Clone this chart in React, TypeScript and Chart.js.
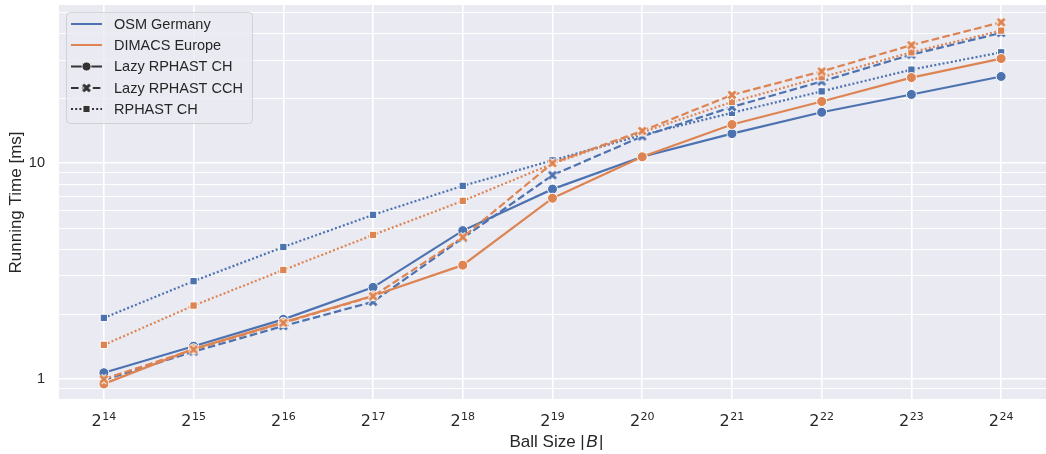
import React, { useEffect, useRef } from 'react';
import { Chart, registerables } from 'chart.js';

Chart.register(...registerables);

// ---- data ----
const exponents = [14, 15, 16, 17, 18, 19, 20, 21, 22, 23, 24];
const osmLazyCH = [1.07, 1.42, 1.89, 2.66, 4.87, 7.58, 10.7, 13.7, 17.2, 20.8, 25.2];
const dimacsLazyCH = [0.95, 1.38, 1.83, 2.43, 3.37, 6.88, 10.7, 15.1, 19.3, 24.9, 30.5];
const osmLazyCCH = [0.99, 1.34, 1.76, 2.28, 4.5, 8.8, 13.3, 18.2, 23.9, 31.8, 40.1];
const dimacsLazyCCH = [1.0, 1.37, 1.82, 2.42, 4.54, 10.0, 14.1, 20.7, 26.6, 35.2, 44.9];
const osmRphastCH = [1.92, 2.84, 4.09, 5.76, 7.85, 10.3, 13.5, 17.1, 21.5, 27.1, 32.6];
const dimacsRphastCH = [1.44, 2.19, 3.2, 4.65, 6.69, 9.93, 13.9, 19.2, 25.0, 32.6, 41.1];

const yGridValues = [0.8, 0.9, 1, 2, 3, 4, 5, 6, 7, 8, 9, 10, 20, 30, 40, 50];
const yLabeled = [1, 10];

const hueLabels = ['OSM Germany', 'DIMACS Europe'];
const styleLabels = ['Lazy RPHAST CH', 'Lazy RPHAST CCH', 'RPHAST CH'];
const xTitleParts = ['Ball Size ', '|', 'B', '|'];
const yTitle = 'Running Time [ms]';

const BLUE = '#4c72b0';
const ORANGE = '#dd8452';
const DARK = '#333333';
const TEXT = '#262626';
const BG = '#eaeaf2';
const FONT = "'Liberation Sans', Arial, sans-serif";

const DASHED = [7.6, 3.3];
const DOTTED = [2, 2.2];

function makeX(color: string, size = 14, d = 3.5): HTMLCanvasElement {
  const c = document.createElement('canvas');
  c.width = size;
  c.height = size;
  const g = c.getContext('2d')!;
  const m = size / 2;
  g.lineCap = 'butt';
  const cross = () => {
    g.beginPath();
    g.moveTo(m - d, m - d);
    g.lineTo(m + d, m + d);
    g.moveTo(m + d, m - d);
    g.lineTo(m - d, m + d);
    g.stroke();
  };
  g.strokeStyle = '#ffffff';
  g.lineWidth = 5;
  cross();
  g.strokeStyle = color;
  g.lineWidth = 3.1;
  cross();
  return c;
}

function toPoints(vals: number[]) {
  return exponents.map((e, i) => ({ x: e, y: vals[i] }));
}

const bgPlugin = {
  id: 'bgPlugin',
  beforeDraw(chart: any) {
    const { ctx, chartArea } = chart;
    ctx.save();
    ctx.fillStyle = '#ffffff';
    ctx.fillRect(0, 0, chart.width, chart.height);
    ctx.fillStyle = BG;
    ctx.fillRect(chartArea.left, chartArea.top, chartArea.right - chartArea.left, chartArea.bottom - chartArea.top);
    ctx.restore();
  },
};

const xLabelPlugin = {
  id: 'xLabelPlugin',
  afterDraw(chart: any) {
    const { ctx, chartArea } = chart;
    const xs = chart.scales.x;
    ctx.save();
    ctx.fillStyle = TEXT;
    ctx.textBaseline = 'alphabetic';
    ctx.textAlign = 'left';
    for (const e of exponents) {
      const px = xs.getPixelForValue(e);
      const base = '2';
      const sup = String(e);
      ctx.font = `16px 'DejaVu Sans', ${FONT}`;
      const wb = ctx.measureText(base).width;
      ctx.font = `11px 'DejaVu Sans', ${FONT}`;
      const ws = ctx.measureText(sup).width;
      const total = wb + 0.5 + ws;
      const left = px - total / 2;
      ctx.font = `16px 'DejaVu Sans', ${FONT}`;
      ctx.fillText(base, left, 426);
      ctx.font = `11px 'DejaVu Sans', ${FONT}`;
      ctx.fillText(sup, left + wb + 0.5, 420);
    }
    // x axis title with italic B
    const fonts = [`17px ${FONT}`, `17px ${FONT}`, `italic 17px ${FONT}`, `17px ${FONT}`];
    const gaps = [0, 1.5, 1.5, 0];
    let totalW = 0;
    const widths = xTitleParts.map((t, i) => {
      ctx.font = fonts[i];
      const w = ctx.measureText(t).width;
      totalW += w + gaps[i];
      return w;
    });
    let x = (chartArea.left + chartArea.right) / 2 + 4 - totalW / 2;
    xTitleParts.forEach((t, i) => {
      ctx.font = fonts[i];
      ctx.fillText(t, x, 447);
      x += widths[i] + gaps[i];
    });
    ctx.restore();
  },
};

const legendPlugin = {
  id: 'legendPlugin',
  afterDraw(chart: any) {
    const { ctx } = chart;
    ctx.save();
    const x0 = 66.5, y0 = 12.5, w = 186, h = 111, r = 4;
    ctx.beginPath();
    ctx.moveTo(x0 + r, y0);
    ctx.lineTo(x0 + w - r, y0);
    ctx.arcTo(x0 + w, y0, x0 + w, y0 + r, r);
    ctx.lineTo(x0 + w, y0 + h - r);
    ctx.arcTo(x0 + w, y0 + h, x0 + w - r, y0 + h, r);
    ctx.lineTo(x0 + r, y0 + h);
    ctx.arcTo(x0, y0 + h, x0, y0 + h - r, r);
    ctx.lineTo(x0, y0 + r);
    ctx.arcTo(x0, y0, x0 + r, y0, r);
    ctx.closePath();
    ctx.fillStyle = 'rgba(234,234,242,0.8)';
    ctx.fill();
    ctx.strokeStyle = 'rgba(204,204,204,0.8)';
    ctx.lineWidth = 1;
    ctx.stroke();

    const rows = [24, 45, 66.5, 88, 109];
    const items = [
      { label: hueLabels[0], color: BLUE, dash: [] as number[], marker: '' },
      { label: hueLabels[1], color: ORANGE, dash: [] as number[], marker: '' },
      { label: styleLabels[0], color: DARK, dash: [] as number[], marker: 'o' },
      { label: styleLabels[1], color: DARK, dash: DASHED, marker: 'x' },
      { label: styleLabels[2], color: DARK, dash: DOTTED, marker: 's' },
    ];
    const lx0 = 71, lx1 = 102, mx = 86.5;
    items.forEach((it, i) => {
      const y = rows[i];
      ctx.beginPath();
      ctx.setLineDash(it.dash);
      ctx.strokeStyle = it.color;
      ctx.lineWidth = 2;
      ctx.moveTo(lx0, y);
      ctx.lineTo(lx1, y);
      ctx.stroke();
      ctx.setLineDash([]);
      if (it.marker === 'o') {
        ctx.beginPath();
        ctx.arc(mx, y, 4.5, 0, Math.PI * 2);
        ctx.fillStyle = DARK;
        ctx.fill();
        ctx.strokeStyle = '#fff';
        ctx.lineWidth = 0.8;
        ctx.stroke();
      } else if (it.marker === 'x') {
        const img = makeX(DARK, 14, 3.3);
        ctx.drawImage(img, mx - img.width / 2, y - img.height / 2);
      } else if (it.marker === 's') {
        ctx.fillStyle = DARK;
        ctx.fillRect(mx - 3.5, y - 3.5, 7, 7);
        ctx.strokeStyle = '#fff';
        ctx.lineWidth = 0.8;
        ctx.strokeRect(mx - 3.5, y - 3.5, 7, 7);
      }
      ctx.fillStyle = TEXT;
      ctx.font = `14.5px ${FONT}`;
      ctx.textAlign = 'left';
      ctx.textBaseline = 'middle';
      ctx.fillText(it.label, 114, y + 0.5);
    });
    ctx.restore();
  },
};

export default function App() {
  const ref = useRef<HTMLCanvasElement>(null);

  useEffect(() => {
    if (!ref.current) return;
    const xBlue = makeX(BLUE);
    const xOrange = makeX(ORANGE);

    const mk = (label: string, vals: number[], color: string, dash: number[], marker: any, radius: number) => ({
      label,
      data: toPoints(vals),
      borderColor: color,
      backgroundColor: color,
      borderWidth: 2.2,
      borderDash: dash,
      pointStyle: marker,
      pointRadius: radius,
      pointBorderColor: '#ffffff',
      pointBorderWidth: 1,
      pointBackgroundColor: color,
      tension: 0,
      fill: false,
      clip: false,
    });

    const chart = new Chart(ref.current, {
      type: 'line',
      data: {
        datasets: [
          mk(`${hueLabels[1]} ${styleLabels[1]}`, dimacsLazyCCH, ORANGE, DASHED, xOrange, 5),
          mk(`${hueLabels[1]} ${styleLabels[0]}`, dimacsLazyCH, ORANGE, [], 'circle', 5),
          mk(`${hueLabels[1]} ${styleLabels[2]}`, dimacsRphastCH, ORANGE, DOTTED, 'rect', 5.2),
          mk(`${hueLabels[0]} ${styleLabels[0]}`, osmLazyCH, BLUE, [], 'circle', 5),
          mk(`${hueLabels[0]} ${styleLabels[1]}`, osmLazyCCH, BLUE, DASHED, xBlue, 5),
          mk(`${hueLabels[0]} ${styleLabels[2]}`, osmRphastCH, BLUE, DOTTED, 'rect', 5.2),
        ] as any,
      },
      options: {
        animation: false,
        responsive: false,
        layout: { autoPadding: false, padding: { top: 5, right: 0, left: 0, bottom: 0 } },
        plugins: {
          legend: { display: false },
          tooltip: { enabled: false },
        },
        scales: {
          x: {
            type: 'linear',
            min: 13.5,
            max: 24.5,
            afterBuildTicks: (s: any) => {
              s.ticks = exponents.map((v) => ({ value: v }));
            },
            afterFit: (s: any) => {
              s.height = 54;
              s.paddingLeft = 0;
              s.paddingRight = 0;
            },
            ticks: {
              autoSkip: false,
              callback: () => '',
              font: { size: 14.5, family: FONT },
            },
            grid: { color: '#ffffff', lineWidth: 1.6, drawTicks: false },
            border: { display: false },
            title: { display: false },
          },
          y: {
            type: 'logarithmic',
            min: 0.8,
            max: 54,
            afterBuildTicks: (s: any) => {
              s.ticks = yGridValues.map((v) => ({ value: v, major: yLabeled.includes(v) }));
            },
            afterFit: (s: any) => {
              s.width = 59;
              s.paddingTop = 0;
              s.paddingBottom = 0;
            },
            ticks: {
              autoSkip: false,
              padding: 14,
              color: TEXT,
              font: { size: 14.5, family: FONT },
              callback: (v: any) => (yLabeled.includes(Number(v)) ? String(v) : ''),
            },
            grid: {
              color: '#ffffff',
              drawTicks: false,
              lineWidth: (ctx: any) => (ctx.tick && yLabeled.includes(ctx.tick.value) ? 1.6 : 1.1),
            },
            border: { display: false },
            title: {
              display: true,
              text: yTitle,
              color: TEXT,
              font: { size: 17, family: FONT },
              padding: { top: 6, bottom: 0 },
            },
          },
        },
      },
      plugins: [bgPlugin, xLabelPlugin, legendPlugin],
    });
    return () => chart.destroy();
  }, []);

  return (
    <div style={{ position: 'fixed', left: 0, top: 0, width: 1046, height: 454, background: '#fff' }}>
      <canvas ref={ref} width={1046} height={454} style={{ width: 1046, height: 454, display: 'block' }} />
    </div>
  );
}
